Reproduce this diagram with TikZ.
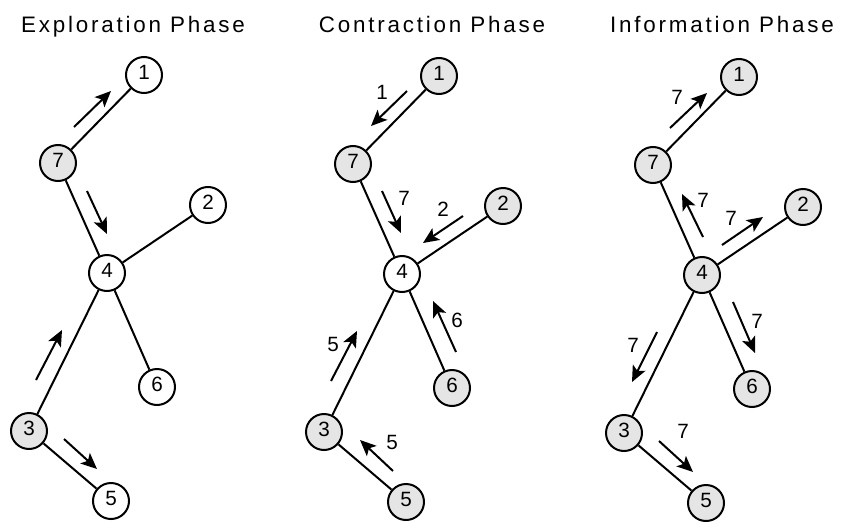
\documentclass[tikz,border=0pt]{standalone}
\usepackage{fontspec}
\setmainfont{Liberation Sans}
\usetikzlibrary{arrows.meta}
\definecolor{visited}{gray}{0.9}

\tikzset{
  vtx/.style={circle, draw=black, line width=1.5pt, minimum size=27pt,
    inner sep=0pt, text depth=4pt, font=\fontsize{15.5}{15.5}\selectfont},
  seen/.style={vtx, fill=visited},
  fresh/.style={vtx, fill=white},
  edge/.style={line width=1.5pt},
  msg/.style={line width=1.5pt, -{Stealth[length=12pt,width=10.5pt,inset=2.8pt]}},
  lbl/.style={font=\fontsize{15.5}{15.5}\selectfont, inner sep=0pt},
  phase/.style={anchor=base, inner sep=0pt,
    font=\fontsize{16.8}{16.8}\selectfont\addfontfeature{LetterSpace=12.5}}
}

\begin{document}
\begin{tikzpicture}[x=0.75pt, y=-0.75pt]
\useasboundingbox (0,0) rectangle (842,521);

% ---------- Exploration phase ----------
\node[phase] (t1) at (133,32) {Exploration Phase};
\begin{scope}
  \node[fresh] (e1) at (144,75)  {1};
  \node[seen]  (e7) at (58,163)  {7};
  \node[fresh] (e2) at (208,205) {2};
  \node[fresh] (e4) at (107,273) {4};
  \node[fresh] (e6) at (157,387) {6};
  \node[seen]  (e3) at (29,431)  {3};
  \node[fresh] (e5) at (111,501) {5};
  \draw[edge] (e7) -- (e1);
  \draw[edge] (e7) -- (e4);
  \draw[edge] (e4) -- (e2);
  \draw[edge] (e4) -- (e6);
  \draw[edge] (e4) -- (e3);
  \draw[edge] (e3) -- (e5);
  \coordinate (ea1) at (74,127);  \coordinate (eb1) at (111,91);
  \coordinate (ea2) at (87,191);  \coordinate (eb2) at (107,234);
  \coordinate (ea3) at (36,380);  \coordinate (eb3) at (62,330);
  \coordinate (ea4) at (64,439);  \coordinate (eb4) at (97,469);
  \draw[msg] (ea1) -- (eb1);
  \draw[msg] (ea2) -- (eb2);
  \draw[msg] (ea3) -- (eb3);
  \draw[msg] (ea4) -- (eb4);
\end{scope}

% ---------- Contraction phase ----------
\node[phase] (t2) at (432,32) {Contraction Phase};
\begin{scope}[shift={(295,1)}]
  \node[seen] (c1) at (144,75)  {1};
  \node[seen] (c7) at (58,163)  {7};
  \node[seen] (c2) at (208,205) {2};
  \node[fresh] (c4) at (107,273) {4};
  \node[seen] (c6) at (157,387) {6};
  \node[seen] (c3) at (29,431)  {3};
  \node[seen] (c5) at (111,501) {5};
  \draw[edge] (c7) -- (c1);
  \draw[edge] (c7) -- (c4);
  \draw[edge] (c4) -- (c2);
  \draw[edge] (c4) -- (c6);
  \draw[edge] (c4) -- (c3);
  \draw[edge] (c3) -- (c5);
  \coordinate (ca1) at (112,90);  \coordinate (cb1) at (76,125);
  \coordinate (ca2) at (87,190);  \coordinate (cb2) at (106,232);
  \coordinate (ca3) at (168,215); \coordinate (cb3) at (128,242);
  \coordinate (ca4) at (36,380);  \coordinate (cb4) at (62,330);
  \coordinate (ca5) at (161,351); \coordinate (cb5) at (138,300);
  \coordinate (ca6) at (98,470);  \coordinate (cb6) at (65,439);
  \draw[msg] (ca1) -- (cb1);
  \draw[msg] (ca2) -- (cb2);
  \draw[msg] (ca3) -- (cb3);
  \draw[msg] (ca4) -- (cb4);
  \draw[msg] (ca5) -- (cb5);
  \draw[msg] (ca6) -- (cb6);
  \node[lbl] (cl1) at (87,91)   {1};
  \node[lbl] (cl2) at (109,197) {7};
  \node[lbl] (cl3) at (148,208) {2};
  \node[lbl] (cl4) at (38,343)  {5};
  \node[lbl] (cl5) at (162,319) {6};
  \node[lbl] (cl6) at (97,441)  {5};
\end{scope}

% ---------- Information phase ----------
\node[phase] (t3) at (722,32) {Information Phase};
\begin{scope}[shift={(595,2)}]
  \node[seen] (i1) at (144,75)  {1};
  \node[seen] (i7) at (58,163)  {7};
  \node[seen] (i2) at (208,205) {2};
  \node[seen] (i4) at (107,273) {4};
  \node[seen] (i6) at (157,387) {6};
  \node[seen] (i3) at (29,431)  {3};
  \node[seen] (i5) at (111,501) {5};
  \draw[edge] (i7) -- (i1);
  \draw[edge] (i7) -- (i4);
  \draw[edge] (i4) -- (i2);
  \draw[edge] (i4) -- (i6);
  \draw[edge] (i4) -- (i3);
  \draw[edge] (i3) -- (i5);
  \coordinate (ia1) at (75,126);  \coordinate (ib1) at (112,91);
  \coordinate (ia2) at (108,235); \coordinate (ib2) at (87,192);
  \coordinate (ia3) at (127,243); \coordinate (ib3) at (168,215);
  \coordinate (ia4) at (62,330);  \coordinate (ib4) at (37,380);
  \coordinate (ia5) at (138,300); \coordinate (ib5) at (160,351);
  \coordinate (ia6) at (64,439);  \coordinate (ib6) at (98,470);
  \draw[msg] (ia1) -- (ib1);
  \draw[msg] (ia2) -- (ib2);
  \draw[msg] (ia3) -- (ib3);
  \draw[msg] (ia4) -- (ib4);
  \draw[msg] (ia5) -- (ib5);
  \draw[msg] (ia6) -- (ib6);
  \node[lbl] (il1) at (82,95)   {7};
  \node[lbl] (il2) at (108,198) {7};
  \node[lbl] (il3) at (136,216) {7};
  \node[lbl] (il4) at (38,343)  {7};
  \node[lbl] (il5) at (162,319) {7};
  \node[lbl] (il6) at (88,429)  {7};
\end{scope}
\end{tikzpicture}
\end{document}
